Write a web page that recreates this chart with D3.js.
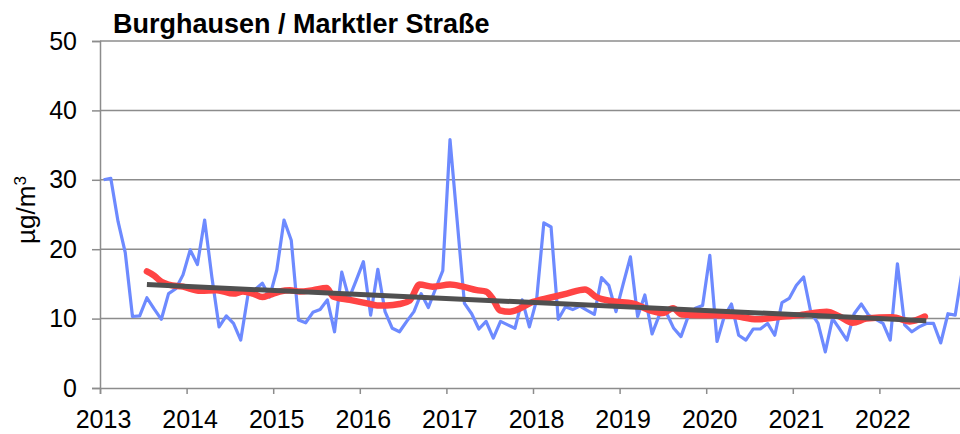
<!DOCTYPE html>
<html>
<head>
<meta charset="utf-8">
<script src="https://cdn.jsdelivr.net/npm/d3@7"></script>
<style>
  body { margin: 0; background: #fff; }
  text { font-family: "Liberation Sans", Arial, sans-serif; fill: #000; }
</style>
</head>
<body>
<div id="chart"></div>
<script>
// year tick labels
const years = [2013, 2014, 2015, 2016, 2017, 2018, 2019, 2020, 2021, 2022];

// monthly means, Jan 2013 .. Dec 2022 (µg/m³)
const monthly = [
  30.0, 30.2, 24.0, 19.5, 10.3, 10.4, 13.0, 11.4, 9.9, 13.6, 14.3, 16.3,
  19.9, 17.8, 24.2, 16.0, 8.8, 10.4, 9.3, 6.9, 13.4, 14.2, 15.1, 13.1,
  17.0, 24.2, 21.3, 9.8, 9.4, 10.9, 11.3, 12.7, 8.1, 16.7, 12.9, 15.5,
  18.2, 10.5, 17.1, 11.0, 8.6, 8.1, 9.6, 11.0, 13.6, 11.6, 14.3, 16.9,
  35.8, 24.0, 12.2, 10.7, 8.5, 9.6, 7.2, 9.6, 9.1, 8.6, 12.7, 8.8,
  12.7, 23.8, 23.2, 9.9, 11.7, 11.3, 11.8, 11.2, 10.6, 15.9, 14.8, 11.0,
  15.0, 18.9, 10.3, 13.4, 7.8, 10.5, 10.8, 8.6, 7.4, 10.3, 11.5, 11.9,
  19.1, 6.7, 10.3, 12.1, 7.6, 6.9, 8.5, 8.5, 9.3, 7.6, 12.3, 12.9,
  14.8, 16.0, 10.9, 9.3, 5.2, 10.0, 8.5, 6.9, 10.7, 12.1, 10.5, 9.9,
  9.3, 6.9, 17.9, 9.1, 8.1, 8.8, 9.3, 9.3, 6.5, 10.7, 10.5, 17.0
];

// running 12-month mean, read at these month positions (0 = Jan 2013)
const avgMonths = [6, 7, 8, 9, 11, 13.4, 15.7, 18, 19.3, 20.7, 22, 23, 24.4, 25.8, 27.2, 29, 30.9, 31.8,
  34.1, 36.5, 37.9, 39.2, 41, 42.4, 43.8, 45.6, 48, 49.8, 51.7, 53, 53.9, 54.9, 56.3, 59.5, 61.8,
  64.2, 66.7, 68.3, 70.5, 73.3, 75.7, 77.5, 78.9, 80.1, 82.6, 85, 87.2, 90.6, 94.1, 96.5, 100.2,
  102, 103.8, 105.7, 109.3, 111.7, 113.8];
const avgValues = [16.8, 16.2, 15.3, 14.9, 14.6, 14.0, 14.1, 13.6, 13.9, 13.6, 13.1, 13.4, 13.9, 14.1, 13.9, 14.1, 14.4, 13.2,
  12.7, 12.2, 11.9, 11.9, 12.1, 12.6, 14.9, 14.6, 14.9, 14.6, 14.1, 13.9, 12.9, 11.2, 11.0, 12.4, 13.0,
  13.6, 14.2, 13.1, 12.5, 12.2, 11.2, 10.8, 11.5, 10.6, 10.5, 10.5, 10.4, 9.9, 10.3, 10.5, 11.0,
  10.3, 9.4, 10.0, 10.2, 9.6, 10.3];

// linear trend, start and end
const trendMonths = [6, 114];
const trendValues = [14.9, 9.7];

const yTicks = [0, 10, 20, 30, 40, 50];

const width = 960, height = 434;
const svg = d3.select("#chart").append("svg")
  .attr("width", width)
  .attr("height", height);

const x = d3.scaleLinear().domain([0, 120]).range([100, 966]);
const y = d3.scaleLinear().domain([0, 50]).range([388, 41]);

// gridlines
svg.append("g")
  .selectAll("line")
  .data(yTicks.filter(d => d > 0))
  .join("line")
  .attr("x1", x(0)).attr("x2", x(120))
  .attr("y1", d => y(d)).attr("y2", d => y(d))
  .attr("stroke", "#8c8c8c")
  .attr("stroke-width", 1.5);

// y axis
const yAxis = svg.append("g")
  .attr("transform", `translate(${x(0)},0)`)
  .call(d3.axisLeft(y).tickValues(yTicks).tickSize(8).tickPadding(15));
yAxis.select(".domain").attr("stroke", "#8c8c8c").attr("stroke-width", 1.5);
yAxis.selectAll(".tick line").attr("stroke", "#8c8c8c").attr("stroke-width", 1.5);
yAxis.selectAll("text").attr("font-size", 25).attr("font-family", "Liberation Sans, Arial, sans-serif");

// x axis
const xAxis = svg.append("g")
  .attr("transform", `translate(0,${y(0)})`)
  .call(d3.axisBottom(x)
    .tickValues(years.map((d, i) => i * 12))
    .tickFormat((d, i) => years[i])
    .tickSize(6).tickPadding(16));
xAxis.select(".domain").attr("stroke", "#8c8c8c").attr("stroke-width", 1.5);
xAxis.selectAll(".tick line").attr("stroke", "#8c8c8c").attr("stroke-width", 1.5);
xAxis.selectAll("text").attr("font-size", 25).attr("dx", 3).attr("font-family", "Liberation Sans, Arial, sans-serif");

// monthly series
const line = d3.line().x(d => d[0]).y(d => d[1]);
svg.append("path")
  .attr("d", line(monthly.map((v, i) => [x(i + 0.5), y(v)])))
  .attr("fill", "none")
  .attr("stroke", "#6d8aff")
  .attr("stroke-width", 3.2)
  .attr("stroke-linejoin", "round");

// running mean
svg.append("path")
  .attr("d", d3.line().x(d => d[0]).y(d => d[1]).curve(d3.curveMonotoneX)(
    avgMonths.map((m, i) => [x(m + 0.5), y(avgValues[i])])))
  .attr("fill", "none")
  .attr("stroke", "#ff4444")
  .attr("stroke-width", 6.5)
  .attr("stroke-linejoin", "round")
  .attr("stroke-linecap", "round");

// trend
svg.append("path")
  .attr("d", line(trendMonths.map((m, i) => [x(m + 0.5), y(trendValues[i])])))
  .attr("fill", "none")
  .attr("stroke", "#505050")
  .attr("stroke-width", 5);

// title
svg.append("text")
  .attr("x", 113).attr("y", 33)
  .attr("font-size", 27)
  .attr("font-weight", "bold")
  .text("Burghausen / Marktler Straße");

// unit label
const unit = svg.append("text")
  .attr("transform", "translate(35,210) rotate(-90)")
  .attr("text-anchor", "middle")
  .attr("font-size", 26);
unit.append("tspan").text("µg/m");
unit.append("tspan").attr("baseline-shift", "super").attr("font-size", 17).text("3");
</script>
</body>
</html>
